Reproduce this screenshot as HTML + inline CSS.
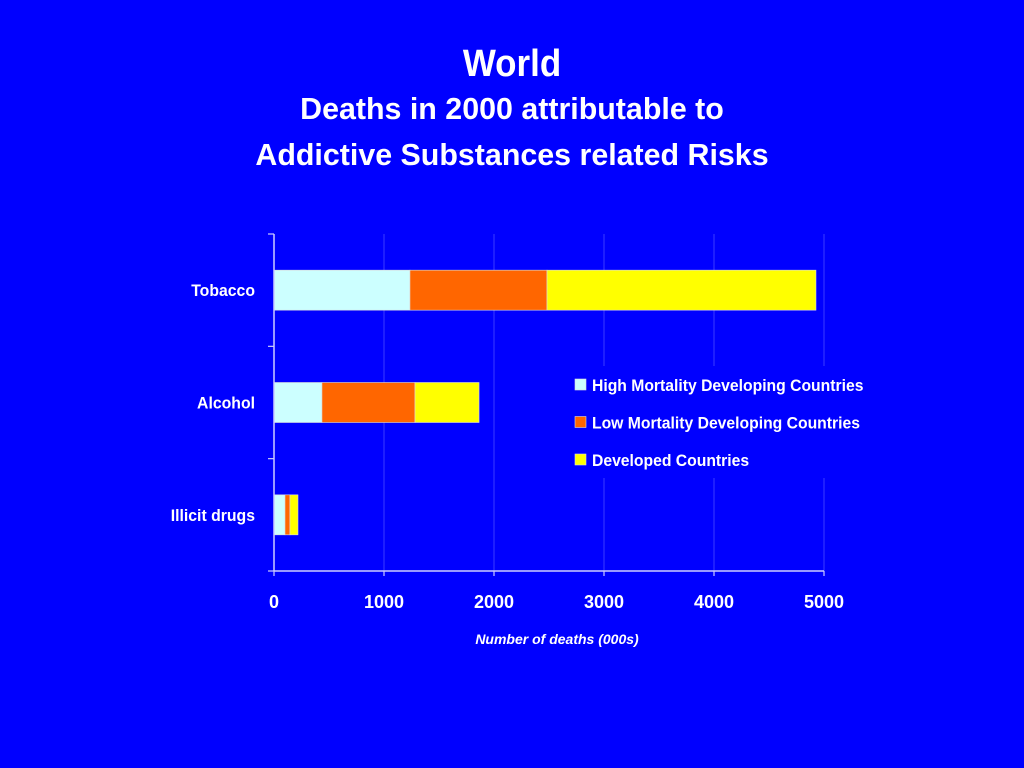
<!DOCTYPE html>
<html><head><meta charset="utf-8"><style>
html,body{margin:0;padding:0;background:#0000ff;width:1024px;height:768px;overflow:hidden}
svg text{font-family:"Liberation Sans",Arial,sans-serif;font-weight:bold;fill:#fff}
</style></head><body>
<svg id="chart" width="1024" height="768" xmlns="http://www.w3.org/2000/svg">
<rect width="1024" height="768" fill="#0000ff"/>
<text x="512" y="76" font-size="38" text-anchor="middle" transform="translate(512,0) scale(0.92,1) translate(-512,0)">World</text>
<text x="512" y="119" font-size="31" text-anchor="middle" transform="translate(512,0) scale(0.98,1) translate(-512,0)">Deaths in 2000 attributable to</text>
<text x="512" y="165" font-size="31" text-anchor="middle" transform="translate(512,0) scale(0.98,1) translate(-512,0)">Addictive Substances related Risks</text>
<g id="plot"></g>
</svg>
<script>
const categories=["Tobacco","Alcohol","Illicit drugs"];
const highMortality=[1236,436,100];
const lowMortality=[1246,846,45];
const developed=[2445,582,73];
const seriesNames=["High Mortality Developing Countries","Low Mortality Developing Countries","Developed Countries"];
const seriesColors=["#ccffff","#ff6600","#ffff00"];
const xTicks=[0,1000,2000,3000,4000,5000];

const NS="http://www.w3.org/2000/svg";
const g=document.getElementById('plot');
const x0=274,x1=824,yTop=234,yBot=571;
const xs=v=>x0+(v-0)/(5000)*(x1-x0);
const band=(yBot-yTop)/categories.length;
function mk(t,a){const e=document.createElementNS(NS,t);for(const k in a)e.setAttribute(k,a[k]);g.appendChild(e);return e;}
xTicks.forEach((t,i)=>{if(i===0)return;const l=mk('line',{x1:xs(t),x2:xs(t),y1:yTop,y2:yBot,stroke:'#3c3cff','stroke-width':1});

});
const series=[highMortality,lowMortality,developed];
categories.forEach((c,i)=>{
  const yc=yTop+band*(i+0.5);let cum=0;
  series.forEach((s,j)=>{
    const r=mk('rect',{x:xs(cum),y:yc-20,width:xs(cum+s[i])-xs(cum),height:40,fill:seriesColors[j],stroke:'#ddd','stroke-width':0.6});
    
    
    cum+=s[i];
  });
  const tx=mk('text',{x:255,y:yc+6,'font-size':17,'text-anchor':'end',transform:`translate(255,0) scale(0.93,1) translate(-255,0)`});
  tx.textContent=c;
  
  
});
const ya=mk('line',{x1:x0,x2:x0,y1:yTop,y2:yBot,stroke:'#ccccff','stroke-width':1.5});


const xa=mk('line',{x1:x0,x2:x1,y1:yBot,y2:yBot,stroke:'#ccccff','stroke-width':1.5});


for(let i=0;i<=categories.length;i++){const y=yTop+band*i;const t=mk('line',{x1:268,x2:x0,y1:y,y2:y,stroke:'#ccccff','stroke-width':1.2});

}
xTicks.forEach(v=>{const t=mk('line',{x1:xs(v),x2:xs(v),y1:yBot,y2:yBot+5,stroke:'#ccccff','stroke-width':1.2});


const tx=mk('text',{x:xs(v),y:608,'font-size':18,'text-anchor':'middle'});tx.textContent=v;

});
const xt=mk('text',{x:557,y:644,'font-size':14,'text-anchor':'middle','font-style':'italic',transform:'translate(557,0) scale(1.0,1) translate(-557,0)'});
xt.textContent='Number of deaths (000s)';


const lb=mk('rect',{x:565,y:366,width:315,height:112,fill:'#0000ff'});


seriesNames.forEach((n,j)=>{const y=385+j*37.5;
const s=mk('rect',{x:575,y:y-6,width:11,height:11,fill:seriesColors[j],stroke:'#ddd','stroke-width':0.6});


const t=mk('text',{x:592,y:y+6,'font-size':17,transform:'translate(592,0) scale(0.925,1) translate(-592,0)'});t.textContent=n;

});
</script>
</body></html>
